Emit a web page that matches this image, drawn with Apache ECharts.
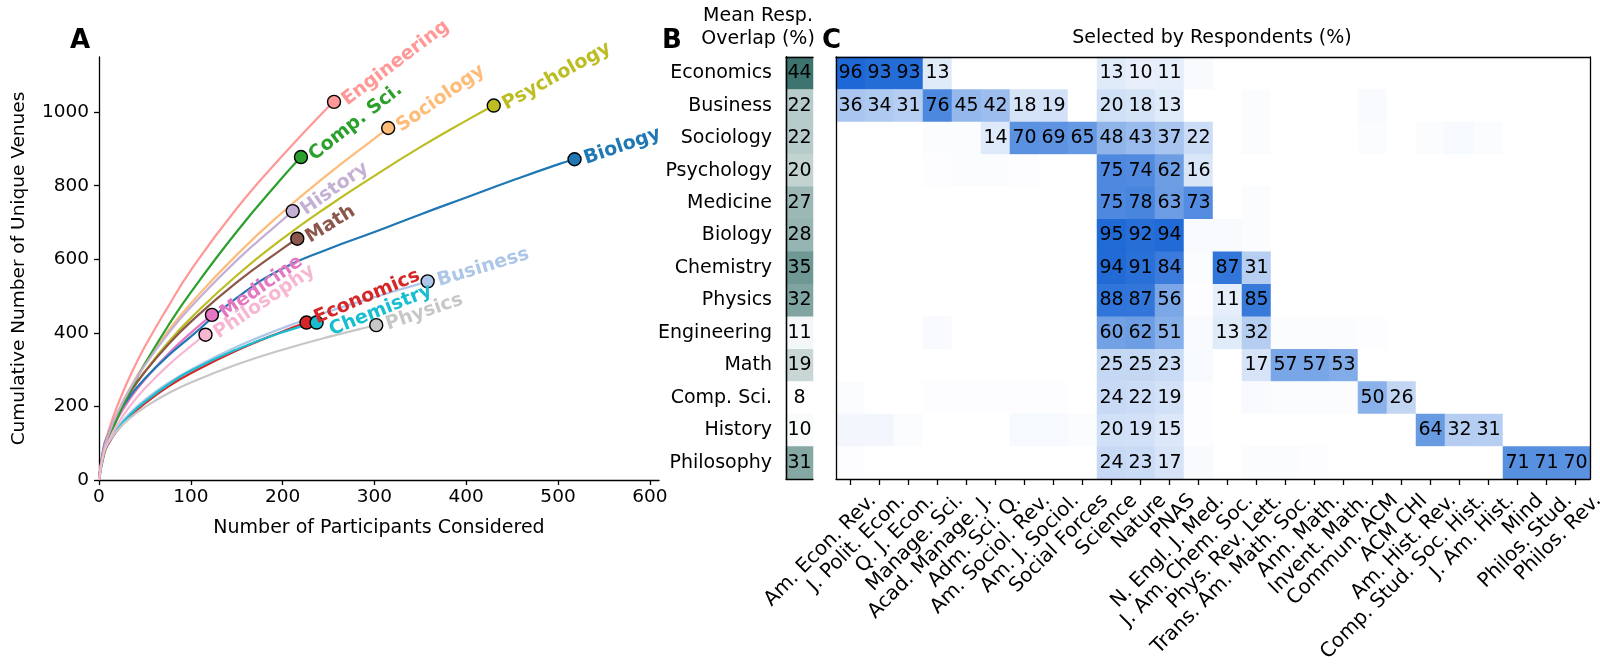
<!DOCTYPE html>
<html>
<head>
<meta charset="utf-8">
<script src="https://cdn.jsdelivr.net/npm/echarts@6.0.0/dist/echarts.min.js"></script>
<style>
  html, body { margin: 0; padding: 0; background: #fff; }
  #chart { width: 1600px; height: 672px; }
</style>
</head>
<body>
<div id="chart"></div>
<script>
// fields, in the row order of panels B and C
const fields = ['Economics', 'Business', 'Sociology', 'Psychology', 'Medicine', 'Biology',
  'Chemistry', 'Physics', 'Engineering', 'Math', 'Comp. Sci.', 'History', 'Philosophy'];

// panel A: participants considered vs cumulative unique venues
const sampleN = [0, 5, 10, 20, 35, 50, 75, 100, 150, 200, 250, 300, 350, 400, 450, 500];
const economics = [0, 69, 97, 135, 175, 208, 253, 290, 352, 404];
const business = [0, 76, 104, 143, 185, 218, 263, 300, 362, 413, 458, 497, 534];
const sociology = [0, 79, 121, 183, 255, 317, 404, 480, 612, 728, 832, 928];
const psychology = [0, 79, 117, 175, 241, 295, 373, 440, 556, 656, 745, 827, 905, 977];
const medicine = [0, 77, 113, 166, 225, 273, 342, 400];
const biology = [0, 89, 125, 176, 232, 276, 337, 390, 495, 575, 628, 674, 722, 768, 814, 858];
const chemistry = [0, 71, 99, 138, 180, 213, 259, 297, 355, 402];
const physics = [0, 75, 101, 135, 171, 198, 235, 265, 314, 354, 389, 420];
const engineering = [0, 83, 130, 202, 289, 363, 470, 570, 738, 882, 1015];
const math = [0, 83, 122, 178, 242, 294, 367, 430, 537, 629];
const compSci = [0, 64, 104, 168, 247, 316, 418, 510, 675, 823];
const history = [0, 80, 121, 182, 253, 312, 397, 470, 597, 707];
const philosophy = [0, 70, 103, 151, 205, 249, 311, 364];
const curves = [economics, business, sociology, psychology, medicine, biology, chemistry,
  physics, engineering, math, compSci, history, philosophy];
const finalN = [226, 358, 315, 430, 123, 518, 237, 302, 256, 216, 220, 211, 116];
const finalVenues = [428, 540, 957, 1018, 449, 872, 428, 421, 1028, 656, 878, 731, 395];
const xTicks = [0, 100, 200, 300, 400, 500, 600];
const yTicks = [0, 200, 400, 600, 800, 1000];

// panel B: mean respondent overlap (%)
const overlap = [44, 22, 22, 20, 27, 28, 35, 32, 11, 19, 8, 10, 31];

// panel C: selected by respondents (%)
const journals = ['Am. Econ. Rev.', 'J. Polit. Econ.', 'Q. J. Econ.', 'Manage. Sci.',
  'Acad. Manage. J.', 'Adm. Sci. Q.', 'Am. Sociol. Rev.', 'Am. J. Sociol.', 'Social Forces',
  'Science', 'Nature', 'PNAS', 'N. Engl. J. Med.', 'J. Am. Chem. Soc.', 'Phys. Rev. Lett.',
  'Trans. Am. Math. Soc.', 'Ann. Math.', 'Invent. Math.', 'Commun. ACM', 'ACM CHI',
  'Am. Hist. Rev.', 'Comp. Stud. Soc. Hist.', 'J. Am. Hist.', 'Mind', 'Philos. Stud.', 'Philos. Rev.'];
const selEconomics = [96, 93, 93, 13, 0, 0, 0, 0, 0, 13, 10, 11, 3, 0, 0, 0, 0, 0, 0, 0, 0, 0, 0, 0, 0, 0];
const selBusiness = [36, 34, 31, 76, 45, 42, 18, 19, 0, 20, 18, 13, 0, 0, 2, 0, 0, 0, 3, 0, 0, 0, 0, 0, 0, 0];
const selSociology = [0, 0, 0, 2, 2, 14, 70, 69, 65, 48, 43, 37, 22, 0, 2, 0, 0, 0, 2, 0, 2, 4, 2, 0, 0, 0];
const selPsychology = [0, 0, 0, 1, 2, 2, 1, 0, 0, 75, 74, 62, 16, 0, 0, 0, 0, 0, 0, 0, 0, 0, 0, 0, 0, 0];
const selMedicine = [0, 0, 0, 0, 0, 0, 0, 0, 0, 75, 78, 63, 73, 0, 2, 0, 0, 0, 0, 0, 0, 0, 0, 0, 0, 0];
const selBiology = [0, 0, 0, 0, 0, 0, 0, 0, 0, 95, 92, 94, 3, 3, 2, 0, 0, 0, 0, 0, 0, 0, 0, 0, 0, 0];
const selChemistry = [0, 0, 0, 0, 0, 0, 0, 0, 0, 94, 91, 84, 2, 87, 31, 0, 0, 0, 0, 0, 0, 0, 0, 0, 0, 0];
const selPhysics = [0, 0, 0, 0, 0, 0, 0, 0, 0, 88, 87, 56, 1, 11, 85, 0, 0, 0, 0, 0, 0, 0, 0, 0, 0, 0];
const selEngineering = [0, 0, 0, 3, 0, 0, 0, 0, 0, 60, 62, 51, 3, 13, 32, 2, 2, 2, 1, 0, 0, 0, 0, 0, 0, 0];
const selMath = [0, 0, 0, 0, 0, 0, 0, 0, 0, 25, 25, 23, 4, 0, 17, 57, 57, 53, 0, 0, 0, 0, 0, 0, 0, 0];
const selCompSci = [2, 0, 0, 1, 1, 1, 1, 1, 0, 24, 22, 19, 1, 0, 3, 2, 2, 2, 50, 26, 0, 0, 0, 0, 0, 0];
const selHistory = [5, 5, 2, 0, 0, 0, 4, 4, 2, 20, 19, 15, 1, 0, 0, 0, 0, 0, 0, 0, 64, 32, 31, 0, 0, 0];
const selPhilosophy = [1, 0, 0, 0, 0, 0, 0, 0, 0, 24, 23, 17, 3, 0, 2, 2, 1, 0, 0, 0, 0, 0, 0, 71, 71, 70];
const selected = [selEconomics, selBusiness, selSociology, selPsychology, selMedicine, selBiology,
  selChemistry, selPhysics, selEngineering, selMath, selCompSci, selHistory, selPhilosophy];

const colors = ['#d62728', '#aec7e8', '#ffbb78', '#bcbd22', '#e377c2', '#1f77b4', '#17becf',
  '#c7c7c7', '#ff9896', '#8c564b', '#2ca02c', '#c5b0d5', '#f7b6d2'];
const labelAngle = [23, 17, 35, 29, 35, 19, 22, 19, 37, 32, 38, 35, 34];
const labelShift = { 'Economics': [0, -4], 'Chemistry': [0, 9] };

const FONT = 'DejaVu Sans';
const chart = echarts.init(document.getElementById('chart'), null, { renderer: 'canvas' });

const lineSeries = fields.map((f, i) => {
  const pts = curves[i].map((v, j) => [sampleN[j], v]);
  pts.push([finalN[i], finalVenues[i]]);
  return {
    name: f, type: 'line', xAxisIndex: 0, yAxisIndex: 0,
    data: pts, smooth: true, showSymbol: false, silent: true,
    lineStyle: { color: colors[i], width: 2.2 }, z: 2
  };
});

const endPoints = fields.map((f, i) => ({
  name: f,
  value: [finalN[i], finalVenues[i]],
  itemStyle: { color: colors[i] },
  label: { rotate: labelAngle[i], color: colors[i], offset: labelShift[f] || [0, 0] }
}));

const frameLine = { show: true, lineStyle: { color: '#000', width: 1.3 } };
const frameAxis = (grid, pos) => ({
  gridIndex: grid, type: 'value', position: pos, min: 0, max: 1, z: 10,
  axisLine: frameLine, axisTick: { show: false }, axisLabel: { show: false }, splitLine: { show: false }
});

const cellsB = overlap.map((v, i) => [0, i, v]);
const cellsC = [];
selected.forEach((row, i) => row.forEach((v, j) => cellsC.push([j, i, v])));

const letter = (t, x) => ({
  text: t, left: x, top: 28, padding: 0,
  textStyle: { fontFamily: FONT, fontSize: 26, fontWeight: 'bold', color: '#000' }
});

const option = {
  backgroundColor: '#fff',
  animation: false,
  textStyle: { fontFamily: FONT },
  title: [
    letter('A', 70), letter('B', 662), letter('C', 822),
    { text: 'Mean Resp.\nOverlap (%)', left: 758, textAlign: 'center', top: 5, padding: 0,
      textStyle: { fontFamily: FONT, fontSize: 19, fontWeight: 'normal', color: '#000', lineHeight: 23 } },
    { text: 'Selected by Respondents (%)', left: 1212, textAlign: 'center', top: 29, padding: 0,
      textStyle: { fontFamily: FONT, fontSize: 19, fontWeight: 'normal', color: '#000' } }
  ],
  grid: [
    { left: 99, top: 57, width: 560, height: 423, outerBoundsMode: 'none' },
    { left: 786, top: 57, width: 27, height: 422, outerBoundsMode: 'none' },
    { left: 836, top: 57, width: 754, height: 422, outerBoundsMode: 'none' }
  ],
  xAxis: [
    {
      gridIndex: 0, type: 'value', min: 0, max: 610,
      name: 'Number of Participants Considered', nameLocation: 'middle', nameGap: 39,
      nameTextStyle: { fontFamily: FONT, fontSize: 19, color: '#000' },
      axisLine: { lineStyle: { color: '#000', width: 1.3 } },
      axisTick: { show: true, length: 5, customValues: xTicks, lineStyle: { color: '#000', width: 1.3 } },
      axisLabel: { customValues: xTicks, fontFamily: FONT, fontSize: 18.5, color: '#000', margin: 8 },
      splitLine: { show: false }
    },
    { gridIndex: 1, type: 'category', data: [''], show: false },
    {
      gridIndex: 2, type: 'category', data: journals, z: 10,
      axisLine: frameLine,
      axisTick: { show: true, alignWithLabel: true, length: 6, lineStyle: { color: '#000', width: 1.3 } },
      axisLabel: {
        interval: 0, rotate: 45, fontFamily: FONT, fontSize: 20, color: '#000',
        margin: -4, verticalAlign: 'top', lineHeight: 64
      },
      splitLine: { show: false }
    },
    frameAxis(1, 'top'), frameAxis(1, 'bottom'),
    frameAxis(2, 'top')
  ],
  yAxis: [
    {
      gridIndex: 0, type: 'value', min: 0, max: 1150,
      name: 'Cumulative Number of Unique Venues', nameLocation: 'middle', nameGap: 70,
      nameTextStyle: { fontFamily: FONT, fontSize: 18.5, color: '#000' },
      axisLine: { show: true, lineStyle: { color: '#000', width: 1.3 } },
      axisTick: { show: true, length: 5, customValues: yTicks, lineStyle: { color: '#000', width: 1.3 } },
      axisLabel: { customValues: yTicks, formatter: v => String(v), fontFamily: FONT, fontSize: 18.5, color: '#000', margin: 10 },
      splitLine: { show: false }
    },
    {
      gridIndex: 1, type: 'category', data: fields, inverse: true, z: 10,
      axisLine: frameLine, axisTick: { show: false },
      axisLabel: { fontFamily: FONT, fontSize: 19, color: '#000', margin: 14 },
      splitLine: { show: false }
    },
    {
      gridIndex: 2, type: 'category', data: fields, inverse: true, z: 10,
      axisLine: frameLine, axisTick: { show: false }, axisLabel: { show: false },
      splitLine: { show: false }
    },
    frameAxis(1, 'right'), frameAxis(2, 'right')
  ],
  visualMap: [
    { type: 'continuous', show: false, seriesIndex: 14, min: 9, max: 44, dimension: 2,
      inRange: { color: ['#ffffff', '#3d7470'] } },
    { type: 'continuous', show: false, seriesIndex: 15, min: 0, max: 100, dimension: 2,
      inRange: { color: ['#ffffff', '#1462d4'] } }
  ],
  series: [
    ...lineSeries,
    {
      type: 'scatter', xAxisIndex: 0, yAxisIndex: 0, z: 5, silent: true,
      symbol: 'circle', symbolSize: 13,
      itemStyle: { borderColor: '#000', borderWidth: 1.4, opacity: 1 },
      label: {
        show: true, position: 'right', distance: 3,
        formatter: p => p.name,
        fontFamily: FONT, fontSize: 19, fontWeight: 'bold'
      },
      data: endPoints
    },
    {
      type: 'heatmap', xAxisIndex: 1, yAxisIndex: 1, data: cellsB, silent: true,
      label: { show: true, fontFamily: FONT, fontSize: 19, color: '#000' }
    },
    {
      type: 'heatmap', xAxisIndex: 2, yAxisIndex: 2, data: cellsC, silent: true,
      label: {
        show: true, fontFamily: FONT, fontSize: 19, color: '#000',
        formatter: p => (p.value[2] >= 10 ? String(p.value[2]) : '')
      }
    }
  ]
};

chart.setOption(option);
</script>
</body>
</html>
